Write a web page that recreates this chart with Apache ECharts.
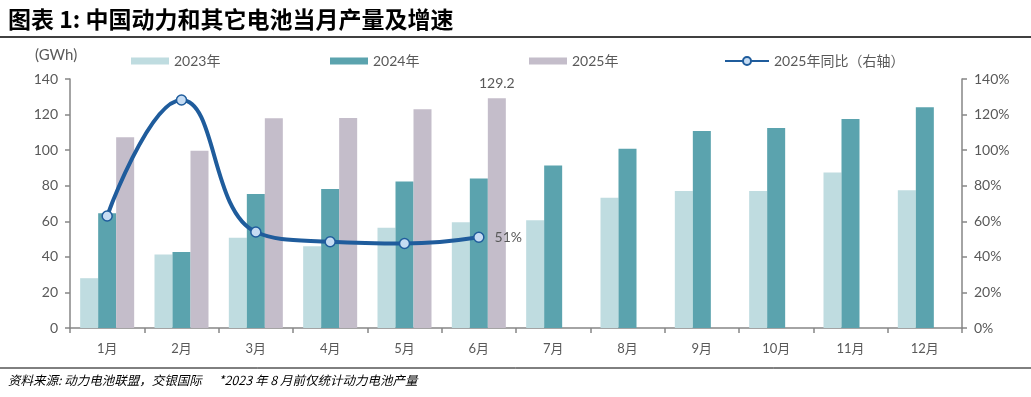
<!DOCTYPE html>
<html><head><meta charset="utf-8">
<script src="https://cdn.jsdelivr.net/npm/echarts@6/dist/echarts.min.js"></script>
<style>html,body{margin:0;padding:0;background:#fff}#c{width:1031px;height:397px}</style>
</head><body><div id="c"></div>
<script>
const months = ['1月','2月','3月','4月','5月','6月','7月','8月','9月','10月','11月','12月'];
const y2023 = [28, 41.3, 50.7, 46, 56.3, 59.5, 60.6, 73.2, 77, 77, 87.5, 77.5];
const y2024 = [64.5, 42.8, 75.3, 78.1, 82.4, 84.1, 91.4, 100.8, 110.8, 112.4, 117.5, 124.1];
const y2025 = [107.2, 99.7, 117.9, 118.1, 123, 129.2, null, null, null, null, null, null];
const yoy2025 = [63, 128.2, 54, 48.5, 47.5, 51, null, null, null, null, null, null];
const leftTicks = [0, 140, 20];
const rightTicks = [0, 140, 20];

const FONT = "Lato, 'Noto Sans CJK SC', sans-serif";
const axisColor = '#868686';
const labelColor = '#595959';

const chart = echarts.init(document.getElementById('c'), null, {renderer: 'canvas'});
chart.setOption({
  animation: false,
  textStyle: {fontFamily: FONT},
  grid: {left: 70, right: 69, top: 79, bottom: 69, containLabel: false},
  graphic: [
    {type: 'text', left: 8, top: 8, style: {text: '图表 1: 中国动力和其它电池当月产量及增速', font: "bold 23px 'Noto Sans CJK SC'", fill: '#000'}},
    {type: 'line', shape: {x1: 0, y1: 37, x2: 1031, y2: 37}, style: {stroke: '#000', lineWidth: 1.5}},
    {type: 'line', shape: {x1: 0, y1: 368, x2: 1031, y2: 368}, style: {stroke: '#000', lineWidth: 1}},
    {type: 'text', left: 8, top: 374, style: {text: '资料来源: 动力电池联盟，交银国际      *2023 年 8 月前仅统计动力电池产量', font: "italic 12.5px 'Noto Sans CJK SC'", fill: '#000'}},
    {type: 'text', left: 35, top: 48, style: {text: '(GWh)', font: '15px ' + FONT, fill: labelColor}}
  ],
  legend: [
    {data: ['2023年'], left: 126, top: 49, icon: 'rect', itemWidth: 38, itemHeight: 7, itemGap: 6, textStyle: {fontSize: 14, color: labelColor, fontFamily: FONT}},
    {data: ['2024年'], left: 325, top: 49, icon: 'rect', itemWidth: 38, itemHeight: 7, textStyle: {fontSize: 14, color: labelColor, fontFamily: FONT}},
    {data: ['2025年'], left: 524, top: 49, icon: 'rect', itemWidth: 38, itemHeight: 7, textStyle: {fontSize: 14, color: labelColor, fontFamily: FONT}},
    {data: ['2025年同比（右轴）'], left: 719, top: 49, itemWidth: 44, itemHeight: 10, textStyle: {fontSize: 14, color: labelColor, fontFamily: FONT}}
  ],
  xAxis: {
    type: 'category', data: months, boundaryGap: true,
    axisLine: {lineStyle: {color: axisColor, width: 1.5}},
    axisTick: {show: true, alignWithLabel: false, length: 5, lineStyle: {color: axisColor, width: 1.5}},
    axisLabel: {color: labelColor, fontSize: 13, margin: 14, fontFamily: FONT}
  },
  yAxis: [
    {type: 'value', min: leftTicks[0], max: leftTicks[1], interval: leftTicks[2],
     axisLine: {show: true, lineStyle: {color: axisColor, width: 1.5}},
     axisTick: {show: true, length: 5, lineStyle: {color: axisColor, width: 1.5}},
     splitLine: {show: false},
     axisLabel: {color: labelColor, fontSize: 14, margin: 12, fontFamily: FONT}},
    {type: 'value', min: rightTicks[0], max: rightTicks[1], interval: rightTicks[2], position: 'right',
     axisLine: {show: true, lineStyle: {color: axisColor, width: 1.5}},
     axisTick: {show: true, length: 5, lineStyle: {color: axisColor, width: 1.5}},
     splitLine: {show: false},
     axisLabel: {color: labelColor, fontSize: 14, margin: 12, fontFamily: FONT, formatter: v => v + '%'}}
  ],
  series: [
    {name: '2023年', type: 'bar', data: y2023, barWidth: 18, barGap: '0%', itemStyle: {color: '#bfdce0'}},
    {name: '2024年', type: 'bar', data: y2024, barWidth: 18, barGap: '0%', itemStyle: {color: '#5ba3ae'}},
    {name: '2025年', type: 'bar', data: y2025, barWidth: 18, barGap: '0%', itemStyle: {color: '#c4bdca'},
     label: {show: true, position: 'top', distance: 8, fontSize: 14, color: labelColor, fontFamily: FONT,
       formatter: p => p.dataIndex === 5 ? String(p.value) : ''}},
    {name: '2025年同比（右轴）', type: 'line', yAxisIndex: 1, data: yoy2025, smooth: 0.45, z: 5,
     symbol: 'circle', symbolSize: 10,
     lineStyle: {color: '#1f5c9c', width: 4},
     itemStyle: {color: '#c6dcf3', borderColor: '#1f5c9c', borderWidth: 1.5},
     label: {show: true, position: 'right', distance: 10, fontSize: 14, color: labelColor, fontFamily: FONT,
       formatter: p => p.dataIndex === 5 ? Math.round(p.value) + '%' : ''}}
  ]
});
</script></body></html>
